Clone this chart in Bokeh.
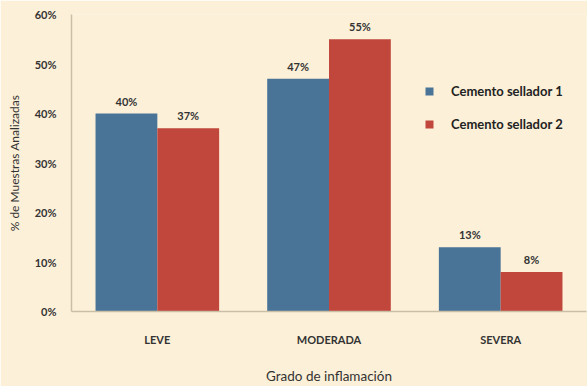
from bokeh.plotting import figure
from bokeh.models import ColumnDataSource, Range1d, NumeralTickFormatter, Legend, LegendItem, FixedTicker, LabelSet
from bokeh.transform import dodge
from bokeh.core.properties import value
from bokeh.embed import file_html
from bokeh.resources import INLINE

categories = ["LEVE", "MODERADA", "SEVERA"]
series1_name = "Cemento sellador 1"
series2_name = "Cemento sellador 2"
series1 = [0.40, 0.47, 0.13]
series2 = [0.37, 0.55, 0.08]
y_ticks = [0, 0.1, 0.2, 0.3, 0.4, 0.5, 0.6]

BG = "#FCF0D8"
BLUE = "#4A7398"
RED = "#C1463B"
AXIS = "#C9BEA6"
FONT = "Lato"

src = ColumnDataSource(dict(
    cat=categories,
    s1=series1,
    s2=series2,
    l1=[f"{round(v*100)}%" for v in series1],
    l2=[f"{round(v*100)}%" for v in series2],
))

p = figure(x_range=categories, y_range=Range1d(0, 0.6), width=587, height=386,
           output_backend="svg", toolbar_location=None,
           background_fill_color=BG, border_fill_color=BG,
           min_border_left=71, min_border_right=1, min_border_top=14, min_border_bottom=70)
p.outline_line_color = None
p.xgrid.grid_line_color = None
p.ygrid.grid_line_color = None
p.x_range.range_padding = 0

bw = 0.36
r1 = p.vbar(x=dodge("cat", -bw/2, range=p.x_range), top="s1", width=bw, source=src,
            fill_color=BLUE, line_color=None)
r2 = p.vbar(x=dodge("cat", bw/2, range=p.x_range), top="s2", width=bw, source=src,
            fill_color=RED, line_color=None)

lab1 = LabelSet(x=dodge("cat", -bw/2, range=p.x_range), y="s1", text="l1", source=src,
                y_offset=6, text_align="center", text_font=value(FONT), text_font_style="bold",
                text_font_size="11px", text_color="#333333")
lab2 = LabelSet(x=dodge("cat", bw/2, range=p.x_range), y="s2", text="l2", source=src,
                y_offset=6, text_align="center", text_font=value(FONT), text_font_style="bold",
                text_font_size="11px", text_color="#333333")
p.add_layout(lab1)
p.add_layout(lab2)

# axes
p.yaxis.ticker = FixedTicker(ticks=y_ticks)
p.yaxis.formatter = NumeralTickFormatter(format="0%")
for ax in (p.xaxis[0], p.yaxis[0]):
    ax.axis_line_color = AXIS
    ax.axis_line_width = 1.5
    ax.major_tick_line_color = None
    ax.minor_tick_line_color = None
    ax.major_label_text_font = FONT
    ax.major_label_text_font_style = "bold"
    ax.major_label_text_font_size = "11px"
    ax.major_label_text_color = "#333333"
    ax.axis_label_text_font = FONT
    ax.axis_label_text_font_style = "normal"
    ax.axis_label_text_color = "#333333"
p.yaxis.axis_label_text_font_size = "12px"
p.xaxis.axis_label_text_font_size = "13.5px"
p.yaxis.major_label_standoff = 9
p.xaxis.major_label_standoff = 15
p.yaxis.axis_label = "% de Muestras Analizadas"
p.yaxis.axis_label_standoff = 10
p.xaxis.axis_label = "Grado de inflamación"
p.xaxis.axis_label_standoff = 19

legend = Legend(items=[LegendItem(label=series1_name, renderers=[r1]),
                       LegendItem(label=series2_name, renderers=[r2])],
                location=(353, 179), orientation="vertical",
                background_fill_alpha=0, border_line_color=None,
                padding=0, margin=0, spacing=17,
                glyph_width=10, glyph_height=10, label_height=10,
                label_standoff=17, label_text_font=FONT, label_text_font_style="bold",
                label_text_font_size="13px", label_text_color="#222222")
p.add_layout(legend)

open("out.html", "w").write(file_html(p, INLINE))
